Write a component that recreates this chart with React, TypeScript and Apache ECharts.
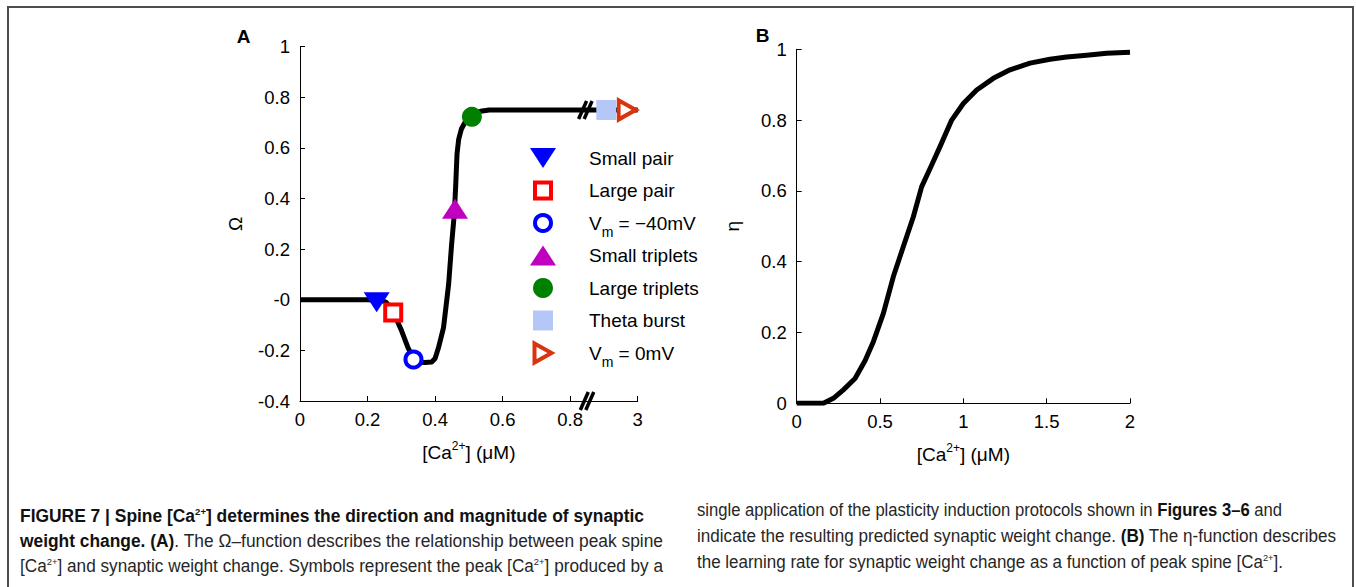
import React, { useEffect, useRef } from 'react';
import * as echarts from 'echarts';

const FONT = "'Liberation Sans', Arial, Helvetica, sans-serif";

// ---------- Panel A: Ω-function ----------
const omegaCa = [0, 0.1, 0.2, 0.24, 0.255, 0.265, 0.276, 0.29, 0.3, 0.32, 0.336, 0.35, 0.37, 0.39, 0.4, 0.41, 0.425, 0.44, 0.449, 0.457, 0.461, 0.465, 0.47, 0.478, 0.49, 0.5, 0.515, 0.535, 0.56, 0.7, 0.85, 1.0];
const omegaVal = [0, 0, 0, -0.002, -0.01, -0.025, -0.05, -0.09, -0.12, -0.19, -0.232, -0.246, -0.248, -0.246, -0.232, -0.19, -0.11, 0.06, 0.22, 0.34, 0.45, 0.577, 0.635, 0.675, 0.705, 0.72, 0.735, 0.745, 0.75, 0.75, 0.75, 0.75];
const xTicksA = ['0', '0.2', '0.4', '0.6', '0.8', '3'];
const yTicksA = ['-0.4', '-0.2', '-0', '0.2', '0.4', '0.6', '0.8', '1'];
const breakCa = [0.845, 0.85];
const breakOmega = [0.75, -0.4];

const protocols = ['Small pair', 'Large pair', 'Vm = −40mV', 'Small triplets', 'Large triplets', 'Theta burst', 'Vm = 0mV'];
const protocolLabels = ['Small pair', 'Large pair', 'V{sub|m} = −40mV', 'Small triplets', 'Large triplets', 'Theta burst', 'V{sub|m} = 0mV'];
const protocolCa = [0.227, 0.276, 0.336, 0.459, 0.509, 0.907, 0.969];
const protocolOmega = [-0.01, -0.05, -0.236, 0.36, 0.723, 0.75, 0.75];

// ---------- Panel B: η-function ----------
const etaCa = [0, 0.16, 0.22, 0.28, 0.35, 0.41, 0.46, 0.52, 0.58, 0.64, 0.7, 0.75, 0.81, 0.86, 0.93, 1.0, 1.08, 1.18, 1.28, 1.4, 1.52, 1.62, 1.74, 1.86, 2.0];
const etaVal = [0, 0, 0.014, 0.038, 0.07, 0.12, 0.174, 0.254, 0.358, 0.443, 0.527, 0.612, 0.673, 0.725, 0.8, 0.847, 0.885, 0.918, 0.942, 0.961, 0.972, 0.978, 0.983, 0.989, 0.992];
const xTicksB = ['0', '0.5', '1', '1.5', '2'];
const yTicksB = ['0', '0.2', '0.4', '0.6', '0.8', '1'];

// marker styles (one per protocol)
const markerStyles: any[] = [
  { symbol: 'triangle', symbolRotate: 180, symbolSize: [26, 20], itemStyle: { color: '#0000ff' } },
  { symbol: 'rect', symbolSize: 16, itemStyle: { color: '#ffffff', borderColor: '#ff0000', borderWidth: 4 } },
  { symbol: 'circle', symbolSize: 16, itemStyle: { color: '#ffffff', borderColor: '#0000ff', borderWidth: 4 } },
  { symbol: 'triangle', symbolSize: [26, 20], itemStyle: { color: '#bf00bf' } },
  { symbol: 'circle', symbolSize: 20, itemStyle: { color: '#008000' } },
  { symbol: 'rect', symbolSize: 20, itemStyle: { color: '#b4c7f7' } },
  { symbol: 'triangle', symbolRotate: -90, symbolSize: [19, 17], itemStyle: { color: '#ffffff', borderColor: '#d7340f', borderWidth: 4 } },
];

function legendIcon(i: number): any {
  const m = markerStyles[i];
  const st = m.itemStyle;
  const fillStroke = st.borderWidth
    ? { fill: st.color, stroke: st.borderColor, lineWidth: st.borderWidth, lineJoin: 'miter' }
    : { fill: st.color };
  if (m.symbol === 'circle') return { type: 'circle', shape: { cx: 0, cy: 0, r: m.symbolSize / 2 }, style: fillStroke };
  if (m.symbol === 'rect') {
    const s = m.symbolSize;
    return { type: 'rect', shape: { x: -s / 2, y: -s / 2, width: s, height: s }, style: fillStroke };
  }
  const [w, h] = m.symbolSize;
  let pts = [[-w / 2, h / 2], [w / 2, h / 2], [0, -h / 2]];
  if (m.symbolRotate === 180) pts = [[-w / 2, -h / 2], [w / 2, -h / 2], [0, h / 2]];
  if (m.symbolRotate === -90) pts = [[-h / 2, -w / 2], [h / 2, 0], [-h / 2, w / 2]];
  return { type: 'polygon', shape: { points: pts }, style: fillStroke };
}

const axisText = { color: '#000', fontFamily: FONT, fontSize: 18.5 };
const nameStyle = {
  color: '#000', fontFamily: FONT, fontSize: 19,
  rich: { sup: { color: '#000', fontFamily: FONT, fontSize: 12, padding: [0, 0, 12, 0] } },
};

function baseAxis(extra: any) {
  return {
    type: 'value',
    axisLine: { show: true, onZero: false, lineStyle: { color: '#000', width: 1 } },
    axisTick: { show: true, inside: true, length: 5, lineStyle: { color: '#000', width: 1 } },
    splitLine: { show: false },
    ...extra,
  };
}

export default function App() {
  const chartRef = useRef<HTMLDivElement>(null);
  const capRef = useRef<HTMLDivElement>(null);

  useEffect(() => {
    const chart = echarts.init(chartRef.current!, null, { renderer: 'svg' });
    const legendX = 543;
    const legendTextX = 589;
    const legendTop = 158;
    const legendStep = 32.5;

    const option: any = {
      animation: false,
      grid: [
        { left: 300, top: 46.7, width: 337.7, height: 354.3 },
        { left: 796.7, top: 49.3, width: 333.3, height: 354 },
      ],
      xAxis: [
        baseAxis({
          gridIndex: 0, min: 0, max: 1, interval: 0.2,
          axisLabel: { ...axisText, margin: 9, formatter: (v: number) => xTicksA[Math.round(v / 0.2)] },
          name: '[Ca{sup|2+}] (μM)', nameLocation: 'middle', nameGap: 39, nameTextStyle: nameStyle,
        }),
        baseAxis({
          gridIndex: 1, min: 0, max: 2, interval: 0.5,
          axisLabel: { ...axisText, margin: 9, formatter: (v: number) => xTicksB[Math.round(v / 0.5)] },
          name: '[Ca{sup|2+}] (μM)', nameLocation: 'middle', nameGap: 39, nameTextStyle: nameStyle,
        }),
      ],
      yAxis: [
        baseAxis({
          gridIndex: 0, min: -0.4, max: 1, interval: 0.2,
          axisLabel: { ...axisText, margin: 10, formatter: (v: number) => yTicksA[Math.round((v + 0.4) / 0.2)] },
          name: 'Ω', nameLocation: 'middle', nameGap: 55, nameTextStyle: { color: '#000', fontFamily: FONT, fontSize: 19 },
        }),
        baseAxis({
          gridIndex: 1, min: 0, max: 1, interval: 0.2,
          axisLabel: { ...axisText, margin: 10, formatter: (v: number) => yTicksB[Math.round(v / 0.2)] },
          name: 'η', nameLocation: 'middle', nameGap: 55, nameTextStyle: { color: '#000', fontFamily: FONT, fontSize: 19 },
        }),
      ],
      series: [
        {
          name: 'Ω', type: 'line', xAxisIndex: 0, yAxisIndex: 0, showSymbol: false, symbol: 'none',
          data: omegaCa.map((c, i) => [c, omegaVal[i]]),
          lineStyle: { color: '#000', width: 5, join: 'round' }, z: 2,
        },
        {
          name: 'break', type: 'custom', xAxisIndex: 0, yAxisIndex: 0, z: 5,
          data: breakCa.map((c, i) => [c, breakOmega[i]]),
          renderItem: (_p: any, api: any) => {
            const p = api.coord([api.value(0), api.value(1)]);
            const dx = 4, h = 9, sep = 5.5;
            return {
              type: 'group',
              children: [-1, 1].map((s) => ({
                type: 'line',
                shape: { x1: p[0] + (s * sep) / 2 - dx, y1: p[1] + h, x2: p[0] + (s * sep) / 2 + dx, y2: p[1] - h },
                style: { stroke: '#000', lineWidth: 3.5 },
              })),
            };
          },
        },
        ...protocols.map((name, i) => ({
          name, type: 'scatter', xAxisIndex: 0, yAxisIndex: 0, z: 10,
          ...markerStyles[i],
          itemStyle: { ...markerStyles[i].itemStyle, opacity: 1 },
          data: [[protocolCa[i], protocolOmega[i]]],
        })),
        {
          name: 'η', type: 'line', xAxisIndex: 1, yAxisIndex: 1, showSymbol: false, symbol: 'none',
          data: etaCa.map((c, i) => [c, etaVal[i]]),
          lineStyle: { color: '#000', width: 5, join: 'round' },
        },
      ],
      graphic: [
        { type: 'text', x: 243.7, y: 36, style: { text: 'A', fontFamily: FONT, fontSize: 19, fontWeight: 'bold', fill: '#000', align: 'center', verticalAlign: 'middle' } },
        { type: 'text', x: 762.5, y: 35, style: { text: 'B', fontFamily: FONT, fontSize: 19, fontWeight: 'bold', fill: '#000', align: 'center', verticalAlign: 'middle' } },
        ...protocols.map((_, i) => ({
          type: 'group', x: legendX, y: legendTop + i * legendStep,
          children: [
            legendIcon(i),
            {
              type: 'text', x: legendTextX - legendX, y: 0,
              style: {
                text: protocolLabels[i], fontFamily: FONT, fontSize: 19, fill: '#000', align: 'left', verticalAlign: 'middle',
                rich: { sub: { fontFamily: FONT, fontSize: 14, fill: '#000', padding: [18, 0, 0, 0] } },
              },
            },
          ],
        })),
      ],
    };
    chart.setOption(option);

    const els = capRef.current!.querySelectorAll<HTMLElement>('[data-w]');
    els.forEach((el) => {
      el.style.transform = 'none';
      const w = el.getBoundingClientRect().width;
      const t = Number(el.dataset.w);
      if (w > 0) el.style.transform = `scaleX(${t / w})`;
    });

    return () => chart.dispose();
  }, []);

  const line = (left: number, top: number, w: number, content: React.ReactNode) => (
    <div
      data-w={w}
      style={{ position: 'absolute', left, top, whiteSpace: 'nowrap', transformOrigin: '0 0', fontFamily: FONT, fontSize: 17.5, lineHeight: '20px', color: '#262626' }}
    >
      {content}
    </div>
  );
  const sup = (t: string) => <span style={{ fontSize: '0.55em', position: 'relative', top: '-0.75em' }}>{t}</span>;

  return (
    <div style={{ position: 'fixed', left: 0, top: 0, width: 1356, height: 587, overflow: 'hidden', background: '#fff' }}>
      <div style={{ position: 'absolute', left: 7, top: 6, width: 1347, height: 620, border: '2px solid #4d4d4d', boxSizing: 'border-box' }} />
      <div ref={chartRef} style={{ position: 'absolute', left: 0, top: 0, width: 1356, height: 480 }} />
      <div ref={capRef}>
        {line(20, 506, 624, <b style={{ color: '#111' }}>FIGURE 7 | Spine [Ca{sup('2+')}] determines the direction and magnitude of synaptic</b>)}
        {line(20, 531, 643, <><b style={{ color: '#111' }}>weight change. (A)</b>. The Ω–function describes the relationship between peak spine</>)}
        {line(20, 556, 643, <>[Ca{sup('2+')}] and synaptic weight change. Symbols represent the peak [Ca{sup('2+')}] produced by a</>)}
        {line(697, 500, 585, <>single application of the plasticity induction protocols shown in <b style={{ color: '#111' }}>Figures 3–6</b> and</>)}
        {line(697, 526, 639, <>indicate the resulting predicted synaptic weight change. <b style={{ color: '#111' }}>(B)</b> The η-function describes</>)}
        {line(697, 552, 586, <>the learning rate for synaptic weight change as a function of peak spine [Ca{sup('2+')}].</>)}
      </div>
    </div>
  );
}
